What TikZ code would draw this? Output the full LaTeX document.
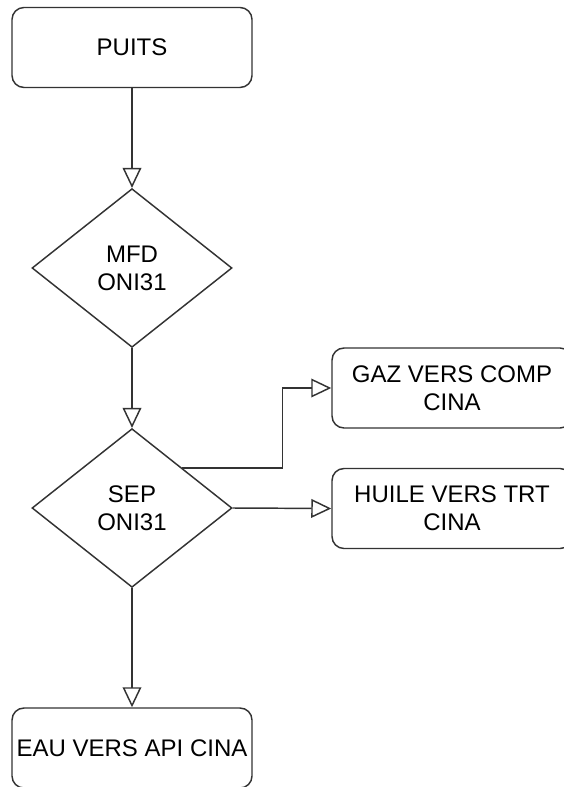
\documentclass[tikz,border=0pt]{standalone}
\usepackage{fontspec}
\setmainfont{Liberation Sans}
\usetikzlibrary{shapes.geometric,arrows.meta}

\tikzset{
  stepbox/.style={draw=black!80, rounded corners=9pt, minimum width=180pt, minimum height=60pt, align=center},
  decision/.style={diamond, draw=black!80, minimum width=150pt, minimum height=119pt, inner sep=0pt, align=center},
  flow/.style={draw=black!80, -{Triangle[open,length=15pt,width=14pt]}},
}

\begin{document}
\begin{tikzpicture}[x=0.75pt,y=-0.75pt,line width=1.1pt,font=\fontsize{18}{21}\selectfont]
\useasboundingbox (0,0) rectangle (563,787);
\node[stepbox] (puits) at (132,47.5) {PUITS};
\node[decision] (mfd) at (132,268) {MFD\\ONI31};
\node[decision] (sep) at (132,508) {SEP\\ONI31};
\node[stepbox] (gaz) at (452,388) {GAZ VERS COMP\\CINA};
\node[stepbox] (huile) at (452,508.5) {HUILE VERS TRT\\CINA};
\node[stepbox] (eau) at (132,748) {EAU VERS API CINA};

\draw[flow] (puits) -- (mfd);
\draw[flow] (mfd) -- (sep);
\draw[flow] (sep.north east) -- ++(100,0) |- (gaz.west);
\draw[flow] (sep.east) -- (huile.west);
\draw[flow] (sep) -- (eau);
\end{tikzpicture}
\end{document}
